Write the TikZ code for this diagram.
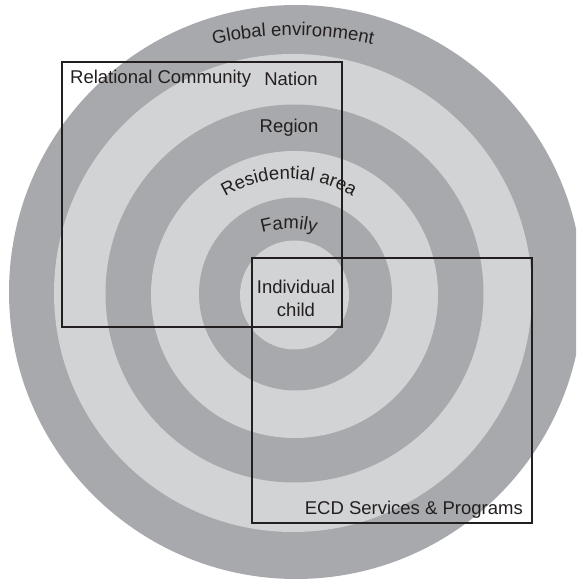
\documentclass[tikz,border=0pt]{standalone}
\usepackage{fontspec}
\setmainfont{Liberation Sans}
\usetikzlibrary{decorations.text}
\definecolor{ringdark}{HTML}{A7A9AC}
\definecolor{ringlight}{HTML}{D1D3D4}
\definecolor{ink}{HTML}{231F20}
\newcommand\lblfont{\fontsize{18.5}{23}\selectfont}
\begin{document}
\begin{tikzpicture}[x=1pt,y=1pt,
  ringd/.style={circle, fill=ringdark, draw=none, inner sep=0pt},
  ringl/.style={circle, fill=ringlight, draw=none, inner sep=0pt},
  frame/.style={draw=ink, line width=1.4pt, inner sep=0pt, minimum width=280pt, minimum height=265pt},
  lbl/.style={font=\lblfont, text=ink, inner sep=0pt},
  arclbl/.style={decorate, decoration={text along path, text align=center, text color=ink}}]
\useasboundingbox (0,0) rectangle (576,581);
\begin{scope}
\clip (0,0) rectangle (576,581);
\node[ringd, minimum size=574pt] (global) at (296,289) {};
\node[ringl, minimum size=478pt] (nation) at (293,288) {};
\node[ringd, minimum size=378pt] (region) at (294.5,287.5) {};
\node[ringl, minimum size=287pt] (resid) at (294.5,286.5) {};
\node[ringd, minimum size=193pt] (family) at (295.5,287) {};
\node[ringl, minimum size=109pt] (child) at (294.5,286) {};
\end{scope}
% frames
\node[frame] (rc) at (202,386.5) {};
\node[frame] (ecd) at (392,190.5) {};
% curved labels
\path[arclbl, decoration={text={|\lblfont|Global environment}}]
  (293,165.3) ++(108:380pt) arc[start angle=108, end angle=72, radius=380pt];
\path[arclbl, decoration={text={|\lblfont|Residential area}}]
  (289,277) ++(140:125pt) arc[start angle=140, end angle=40, radius=125pt];
\path[arclbl, decoration={text={|\lblfont|Family}}]
  (289,256) ++(125:96pt) arc[start angle=125, end angle=55, radius=96pt];
% straight labels
\node[lbl, anchor=base] (tnation) at (291,495) {Nation};
\node[lbl, anchor=base] (tregion) at (289,448) {Region};
\node[lbl, anchor=base west] (trc) at (70,497) {Relational Community};
\node[lbl, anchor=base east] (tecd) at (523,66) {ECD Services \& Programs};
\node[lbl, align=center] (tchild) at (296,283) {Individual\\child};
\end{tikzpicture}
\end{document}
